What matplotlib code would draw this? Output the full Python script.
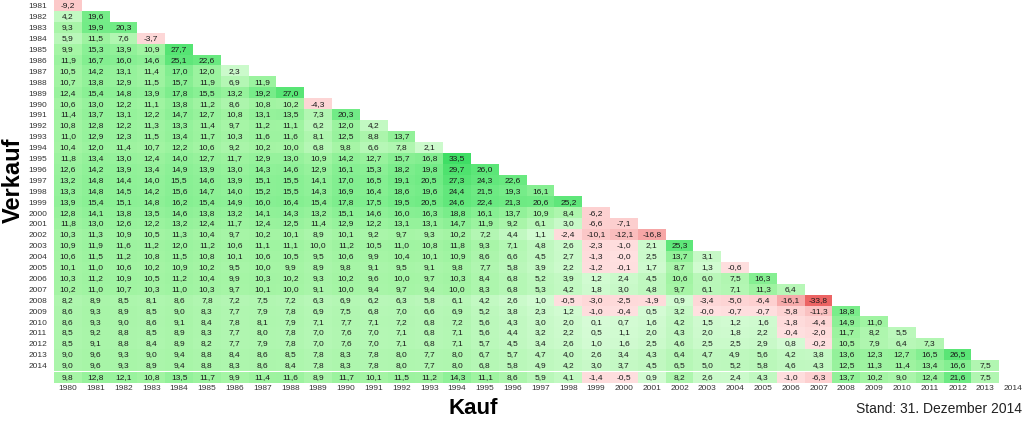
"""Renditedreieck: jährliche Rendite je Kauf- und Verkaufsjahr."""
import numpy as np
import matplotlib.pyplot as plt

plt.rcParams['font.family'] = ['Liberation Sans', 'DejaVu Sans']

kauf_jahre = list(range(1980, 2015))
verkauf_jahre = list(range(1981, 2015))

# eine Zeile je Verkaufsjahr, Spalten = Kaufjahr ab 1980
rendite = [
    [-9.2],
    [4.2, 19.6],
    [9.3, 19.9, 20.3],
    [5.9, 11.5, 7.6, -3.7],
    [9.9, 15.3, 13.9, 10.9, 27.7],
    [11.9, 16.7, 16.0, 14.6, 25.1, 22.6],
    [10.5, 14.2, 13.1, 11.4, 17.0, 12.0, 2.3],
    [10.7, 13.8, 12.9, 11.5, 15.7, 11.9, 6.9, 11.9],
    [12.4, 15.4, 14.8, 13.9, 17.8, 15.5, 13.2, 19.2, 27.0],
    [10.6, 13.0, 12.2, 11.1, 13.8, 11.2, 8.6, 10.8, 10.2, -4.3],
    [11.4, 13.7, 13.1, 12.2, 14.7, 12.7, 10.8, 13.1, 13.5, 7.3, 20.3],
    [10.8, 12.8, 12.2, 11.3, 13.3, 11.4, 9.7, 11.2, 11.1, 6.2, 12.0, 4.2],
    [11.0, 12.9, 12.3, 11.5, 13.4, 11.7, 10.3, 11.6, 11.6, 8.1, 12.5, 8.8, 13.7],
    [10.4, 12.0, 11.4, 10.7, 12.2, 10.6, 9.2, 10.2, 10.0, 6.8, 9.8, 6.6, 7.8, 2.1],
    [11.8, 13.4, 13.0, 12.4, 14.0, 12.7, 11.7, 12.9, 13.0, 10.9, 14.2, 12.7, 15.7, 16.8, 33.5],
    [12.6, 14.2, 13.9, 13.4, 14.9, 13.9, 13.0, 14.3, 14.6, 12.9, 16.1, 15.3, 18.2, 19.8, 29.7, 26.0],
    [13.2, 14.8, 14.4, 14.0, 15.5, 14.6, 13.9, 15.1, 15.5, 14.1, 17.0, 16.5, 19.1, 20.5, 27.3, 24.3,
     22.6],
    [13.3, 14.8, 14.5, 14.2, 15.6, 14.7, 14.0, 15.2, 15.5, 14.3, 16.9, 16.4, 18.6, 19.6, 24.4, 21.5,
     19.3, 16.1],
    [13.9, 15.4, 15.1, 14.8, 16.2, 15.4, 14.9, 16.0, 16.4, 15.4, 17.8, 17.5, 19.5, 20.5, 24.6, 22.4,
     21.3, 20.6, 25.2],
    [12.8, 14.1, 13.8, 13.5, 14.6, 13.8, 13.2, 14.1, 14.3, 13.2, 15.1, 14.6, 16.0, 16.3, 18.8, 16.1,
     13.7, 10.9, 8.4, -6.2],
    [11.8, 13.0, 12.6, 12.2, 13.2, 12.4, 11.7, 12.4, 12.5, 11.4, 12.9, 12.2, 13.1, 13.1, 14.7, 11.9,
     9.2, 6.1, 3.0, -6.6, -7.1],
    [10.3, 11.3, 10.9, 10.5, 11.3, 10.4, 9.7, 10.2, 10.1, 8.9, 10.1, 9.2, 9.7, 9.3, 10.2, 7.2,
     4.4, 1.1, -2.4, -10.1, -12.1, -16.8],
    [10.9, 11.9, 11.6, 11.2, 12.0, 11.2, 10.6, 11.1, 11.1, 10.0, 11.2, 10.5, 11.0, 10.8, 11.8, 9.3,
     7.1, 4.8, 2.6, -2.3, -1.0, 2.1, 25.3],
    [10.6, 11.5, 11.2, 10.8, 11.5, 10.8, 10.1, 10.6, 10.5, 9.5, 10.6, 9.9, 10.4, 10.1, 10.9, 8.6,
     6.6, 4.5, 2.7, -1.3, -0.0, 2.5, 13.7, 3.1],
    [10.1, 11.0, 10.6, 10.2, 10.9, 10.2, 9.5, 10.0, 9.9, 8.9, 9.8, 9.1, 9.5, 9.1, 9.8, 7.7,
     5.8, 3.9, 2.2, -1.2, -0.1, 1.7, 8.7, 1.3, -0.6],
    [10.3, 11.2, 10.9, 10.5, 11.2, 10.4, 9.9, 10.3, 10.2, 9.3, 10.2, 9.6, 10.0, 9.7, 10.3, 8.4,
     6.8, 5.2, 3.9, 1.2, 2.4, 4.5, 10.6, 6.0, 7.5, 16.3],
    [10.2, 11.0, 10.7, 10.3, 11.0, 10.3, 9.7, 10.1, 10.0, 9.1, 10.0, 9.4, 9.7, 9.4, 10.0, 8.3,
     6.8, 5.3, 4.2, 1.8, 3.0, 4.8, 9.7, 6.1, 7.1, 11.3, 6.4],
    [8.2, 8.9, 8.5, 8.1, 8.6, 7.8, 7.2, 7.5, 7.2, 6.3, 6.9, 6.2, 6.3, 5.8, 6.1, 4.2,
     2.6, 1.0, -0.5, -3.0, -2.5, -1.9, 0.9, -3.4, -5.0, -6.4, -16.1, -33.8],
    [8.6, 9.3, 8.9, 8.5, 9.0, 8.3, 7.7, 7.9, 7.8, 6.9, 7.5, 6.8, 7.0, 6.6, 6.9, 5.2,
     3.8, 2.3, 1.2, -1.0, -0.4, 0.5, 3.2, -0.0, -0.7, -0.7, -5.8, -11.3, 18.8],
    [8.6, 9.3, 9.0, 8.6, 9.1, 8.4, 7.8, 8.1, 7.9, 7.1, 7.7, 7.1, 7.2, 6.8, 7.2, 5.6,
     4.3, 3.0, 2.0, 0.1, 0.7, 1.6, 4.2, 1.5, 1.2, 1.6, -1.8, -4.4, 14.9, 11.0],
    [8.5, 9.2, 8.8, 8.5, 8.9, 8.3, 7.7, 8.0, 7.8, 7.0, 7.6, 7.0, 7.1, 6.8, 7.1, 5.6,
     4.4, 3.2, 2.2, 0.5, 1.1, 2.0, 4.3, 2.0, 1.8, 2.2, -0.4, -2.0, 11.7, 8.2, 5.5],
    [8.5, 9.1, 8.8, 8.4, 8.9, 8.2, 7.7, 7.9, 7.8, 7.0, 7.6, 7.0, 7.1, 6.8, 7.1, 5.7,
     4.5, 3.4, 2.6, 1.0, 1.6, 2.5, 4.6, 2.5, 2.5, 2.9, 0.8, -0.2, 10.5, 7.9, 6.4, 7.3],
    [9.0, 9.6, 9.3, 9.0, 9.4, 8.8, 8.4, 8.6, 8.5, 7.8, 8.3, 7.8, 8.0, 7.7, 8.0, 6.7,
     5.7, 4.7, 4.0, 2.6, 3.4, 4.3, 6.4, 4.7, 4.9, 5.6, 4.2, 3.8, 13.6, 12.3, 12.7, 16.5, 26.5],
    [9.0, 9.6, 9.3, 8.9, 9.4, 8.8, 8.3, 8.6, 8.4, 7.8, 8.3, 7.8, 8.0, 7.7, 8.0, 6.8,
     5.8, 4.9, 4.2, 3.0, 3.7, 4.5, 6.5, 5.0, 5.2, 5.8, 4.6, 4.3, 12.5, 11.3, 11.4, 13.4, 16.6, 7.5],
]

# Zeile unter dem Dreieck (je Kaufjahr 1980-2013)
gesamt = [9.8, 12.8, 12.1, 10.8, 13.5, 11.7, 9.9, 11.4, 11.6, 8.9, 11.7, 10.1, 11.5, 11.2, 14.3,
          11.1, 8.6, 5.9, 4.1, -1.4, -0.5, 0.9, 8.2, 2.6, 2.4, 4.3, -1.0, -6.3, 13.7, 10.2,
          9.0, 12.4, 21.6, 7.5]

# Farbskala (Stützstellen)
pos_v = [0, 10, 20, 34]
pos_rgb = [(215, 252, 215), (165, 245, 165), (115, 236, 135), (62, 222, 100)]
neg_v = [0, 10, 17, 34]
neg_rgb = [(255, 224, 224), (252, 200, 200), (246, 166, 166), (236, 100, 100)]


def farbe(v):
    if np.isnan(v):
        return (1, 1, 1, 0)
    if v < 0 or np.signbit(v):
        stv, rgb = neg_v, neg_rgb
    else:
        stv, rgb = pos_v, pos_rgb
    a = abs(v)
    return tuple(np.interp(a, stv, [c[k] for c in rgb]) / 255 for k in range(3)) + (1,)


def fmt(v):
    return f"{v:.1f}".replace(".", ",")


n_rows, n_cols = len(verkauf_jahre), len(kauf_jahre)
M = np.full((n_rows, n_cols), np.nan)
for i, row in enumerate(rendite):
    M[i, :len(row)] = row
G = np.full((1, n_cols), np.nan)
G[0, :len(gesamt)] = gesamt

img = np.array([[farbe(v) for v in r] for r in M])
img_g = np.array([[farbe(v) for v in r] for r in G])

W, H = 1030, 423
fig = plt.figure(figsize=(W / 100, H / 100), dpi=100)
ax = fig.add_axes([54 / W, 1 - 383.1 / H, 973 / W, 382.6 / H])

ax.imshow(img, extent=(-0.5, n_cols - 0.5, n_rows - 0.5, -0.5),
          aspect="auto", interpolation="nearest")
ax.imshow(img_g, extent=(-0.5, n_cols - 0.5, n_rows + 0.6, n_rows - 0.35),
          aspect="auto", interpolation="nearest")

txt = "#1a1a1a"
for i in range(n_rows):
    for j in range(n_cols):
        if not np.isnan(M[i, j]):
            ax.text(j, i, fmt(M[i, j]), ha="center", va="center",
                    fontsize=6, color=txt)
for j, v in enumerate(gesamt):
    ax.text(j, n_rows + 0.125, fmt(v), ha="center", va="center", fontsize=6, color=txt)

ax.set_xlim(-0.5, n_cols - 0.5)
ax.set_ylim(n_rows + 0.6, -0.5)
ax.set_xticks(range(n_cols), labels=kauf_jahre)
ax.set_yticks(range(n_rows), labels=verkauf_jahre)
ax.tick_params(axis="both", length=0, labelsize=6, colors="#333333")
ax.tick_params(axis="x", pad=1.5)
ax.tick_params(axis="y", pad=5)
for s in ax.spines.values():
    s.set_visible(False)

fig.text(473 / W, 1 - 408 / H, "Kauf", ha="center", va="center",
         fontsize=16, fontweight="bold", color="black")
fig.text(13 / W, 1 - 180 / H, "Verkauf", ha="center", va="center", rotation=90,
         fontsize=17, fontweight="bold", color="black")
fig.text(1022 / W, 1 - 409 / H, "Stand: 31. Dezember 2014", ha="right", va="center",
         fontsize=10, color="#222222")

fig.savefig("out.png", dpi=100)
